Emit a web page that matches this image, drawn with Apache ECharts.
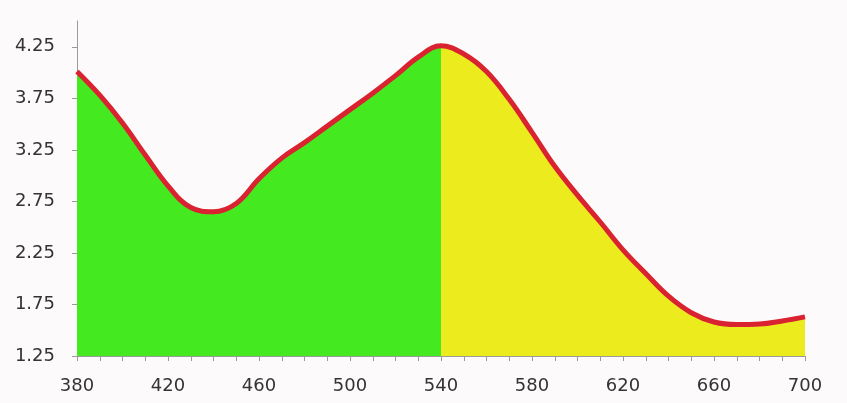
<!DOCTYPE html>
<html>
<head>
<meta charset="utf-8">
<script src="https://cdn.jsdelivr.net/npm/echarts@6/dist/echarts.min.js"></script>
<style>
html,body{margin:0;padding:0;background:#fdfafc;}
#c{width:847px;height:403px;}
</style>
</head>
<body>
<div id="c"></div>
<script>
const wavelengths = [380,390,400,410,420,430,440,450,460,470,480,490,500,510,520,530,540,550,560,570,580,590,600,610,620,630,640,650,660,670,680,690,700];
const absorbance  = [4.01,3.78,3.51,3.20,2.90,2.69,2.65,2.73,2.97,3.17,3.32,3.48,3.64,3.80,3.97,4.15,4.26,4.18,4.01,3.74,3.42,3.09,2.81,2.55,2.28,2.05,1.83,1.67,1.58,1.555,1.56,1.59,1.63];
const xTickLabels = [380,420,460,500,540,580,620,660,700];
const yTickLabels = [1.25,1.75,2.25,2.75,3.25,3.75,4.25];
const splitAt = 540;

const xMin = xTickLabels[0], xMax = xTickLabels[xTickLabels.length-1];
const frac = (splitAt - xMin) / (xMax - xMin);
const green = '#44ea1f', yellow = '#ebeb1d';

const chart = echarts.init(document.getElementById('c'));
chart.setOption({
  backgroundColor: '#fdfafc',
  animation: false,
  grid: {left: 77, right: 42, top: 21, bottom: 47},
  xAxis: {
    type: 'value', min: xMin, max: xMax, interval: 40,
    axisLine: {show: true, lineStyle: {color: '#9a9a9a', width: 1}},
    axisTick: {show: true, length: 5, lineStyle: {color: '#9a9a9a'}},
    minorTick: {show: true, splitNumber: 4, length: 5, lineStyle: {color: '#9a9a9a'}},
    splitLine: {show: false},
    axisLabel: {color: '#333', fontSize: 18, fontFamily: 'DejaVu Sans', margin: 21}
  },
  yAxis: {
    type: 'value', min: 1.25, max: 4.5,
    axisLine: {show: true, lineStyle: {color: '#9a9a9a', width: 1}},
    axisTick: {show: true, length: 5, lineStyle: {color: '#9a9a9a'}, customValues: yTickLabels},
    splitLine: {show: false},
    axisLabel: {color: '#333', fontSize: 18, fontFamily: 'DejaVu Sans', margin: 22,
      customValues: yTickLabels, formatter: v => v.toFixed(2)}
  },
  series: [{
    type: 'line',
    smooth: 0.4,
    symbol: 'none',
    data: wavelengths.map((w,i)=>[w, absorbance[i]]),
    lineStyle: {color: '#da2330', width: 5},
    areaStyle: {
      origin: 'start',
      opacity: 1,
      color: new echarts.graphic.LinearGradient(0,0,1,0,[
        {offset:0,color:green},{offset:frac,color:green},
        {offset:frac,color:yellow},{offset:1,color:yellow}
      ])
    },
    z: 2
  }]
});
</script>
</body>
</html>
